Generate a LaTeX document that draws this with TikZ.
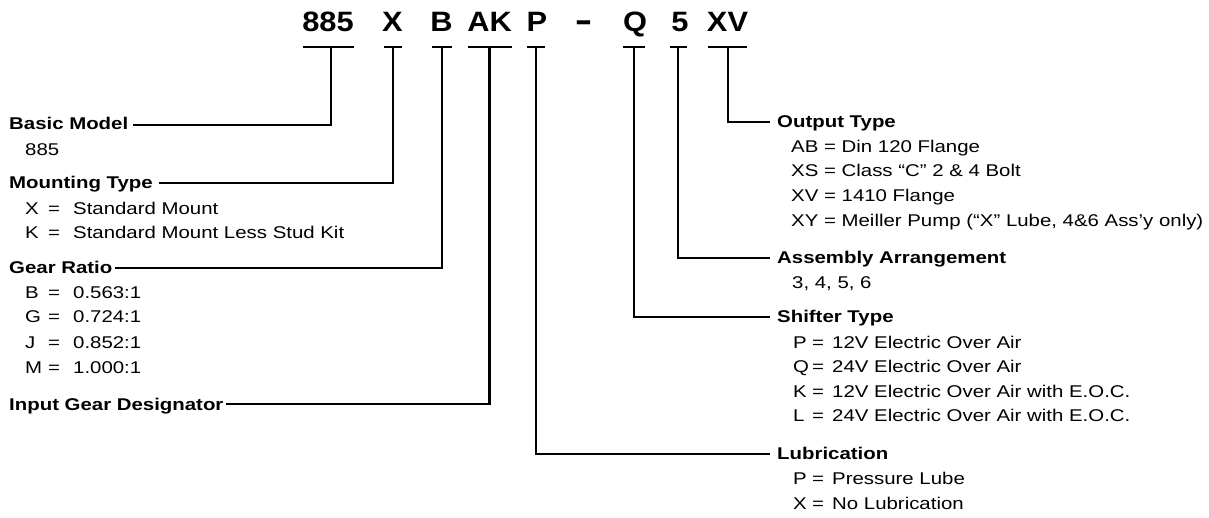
\documentclass[tikz,border=0pt]{standalone}
\usepackage{fontspec}
\setmainfont{Liberation Sans}[FakeStretch=1.2]
\newfontfamily\codefont{Liberation Sans}[FakeStretch=1.1]
\newcommand\fs{\fontsize{17}{20}\selectfont}
\newcommand\lrow[2]{\makebox[23pt][l]{#1}\makebox[25pt][l]{=}#2}
\newcommand\rrow[2]{\makebox[19pt][l]{#1}\makebox[20pt][l]{=}#2}
\newcommand\orow[2]{#1 = #2}
\begin{document}
\begin{tikzpicture}[x=1pt,y=-1pt,
  conn/.style={line width=2.2pt},
  bar/.style={line width=2.2pt},
  title/.style={anchor=base west,inner sep=0pt,font=\fs\bfseries},
  item/.style={anchor=base west,inner sep=0pt,font=\fs},
  code/.style={anchor=base,inner sep=0pt,font=\codefont\fontsize{28}{30}\selectfont\bfseries}]
\useasboundingbox (0,0) rectangle (1209,518);
% top code
\node[code] (c885) at (328,32) {885};
\node[code] (cX) at (392.5,32) {X};
\node[code] (cB) at (441.5,32) {B};
\node[code] (cAK) at (489.5,32) {AK};
\node[code] (cP) at (537,32) {P};
\node[code] (cdash) at (583.5,32) {\scalebox{1.7}[1.2]{-}};
\node[code] (cQ) at (635,32) {Q};
\node[code] (c5) at (680,32) {5};
\node[code] (cXV) at (727.5,32) {XV};
% bars
\draw[bar] (303,47) -- (354,47);
\draw[bar] (384,47) -- (402,47);
\draw[bar] (432,47) -- (452,47);
\draw[bar] (468,47) -- (512,47);
\draw[bar] (527,47) -- (545,47);
\draw[bar] (623,47) -- (645,47);
\draw[bar] (670,47) -- (687,47);
\draw[bar] (708,47) -- (747,47);
\coordinate (t885) at (331,47);
\coordinate (tX) at (393,47);
\coordinate (tB) at (442,47);
\coordinate (tAK) at (489.5,47);
\coordinate (tP) at (536,47);
\coordinate (tQ) at (634,47);
\coordinate (t5) at (678,47);
\coordinate (tXV) at (728,47);
% left texts
\node[title] (basic) at (9,130) {Basic Model};
\node[item] (b1) at (25,156) {885};
\node[title] (mount) at (9,189) {Mounting Type};
\node[item] (m1) at (25,215) {\lrow{X}{Standard Mount}};
\node[item] (m2) at (25,239) {\lrow{K}{Standard Mount Less Stud Kit}};
\node[title] (gear) at (9,274) {Gear Ratio};
\node[item] (g1) at (25,299) {\lrow{B}{0.563:1}};
\node[item] (g2) at (25,323) {\lrow{G}{0.724:1}};
\node[item] (g3) at (25,348) {\lrow{J}{0.852:1}};
\node[item] (g4) at (25,373) {\lrow{M}{1.000:1}};
\node[title] (input) at (9,410) {Input Gear Designator};
% right texts
\node[title] (output) at (777,128) {Output Type};
\node[item] (o1) at (791,153) {\orow{AB}{Din 120 Flange}};
\node[item] (o2) at (791,177) {\orow{XS}{Class “C” 2 \& 4 Bolt}};
\node[item] (o3) at (791,202) {\orow{XV}{1410 Flange}};
\node[item] (o4) at (791,227) {\orow{XY}{Meiller Pump (“X” Lube, 4\&6 Ass’y only)}};
\node[title] (assembly) at (777,264) {Assembly Arrangement};
\node[item] (a1) at (792,289) {3, 4, 5, 6};
\node[title] (shifter) at (777,323) {Shifter Type};
\node[item] (s1) at (793,348) {\rrow{P}{12V Electric Over Air}};
\node[item] (s2) at (793,372) {\rrow{Q}{24V Electric Over Air}};
\node[item] (s3) at (793,397) {\rrow{K}{12V Electric Over Air with E.O.C.}};
\node[item] (s4) at (793,421) {\rrow{L}{24V Electric Over Air with E.O.C.}};
\node[title] (lub) at (777,459) {Lubrication};
\node[item] (l1) at (793,484) {\rrow{P}{Pressure Lube}};
\node[item] (l2) at (793,509) {\rrow{X}{No Lubrication}};
% connectors
\draw[conn] (t885) |- ([xshift=5pt,yshift=5pt]basic.base east);
\draw[conn] (tX) |- ([xshift=6pt,yshift=6pt]mount.base east);
\draw[conn] (tB) |- ([xshift=2pt,yshift=6pt]gear.base east);
\draw[conn] (tAK) |- ([xshift=2pt,yshift=6pt]input.base east);
\draw[conn] (tXV) |- ([xshift=-7pt,yshift=6pt]output.base west);
\draw[conn] (t5) |- ([xshift=-7pt,yshift=6pt]assembly.base west);
\draw[conn] (tQ) |- ([xshift=-7pt,yshift=6pt]shifter.base west);
\draw[conn] (tP) |- ([xshift=-7pt,yshift=5pt]lub.base west);
\end{tikzpicture}
\end{document}
